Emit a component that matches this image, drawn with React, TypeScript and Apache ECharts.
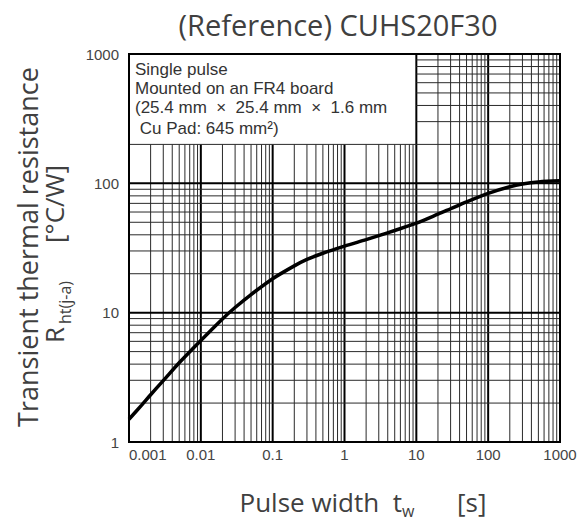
import React, { useEffect, useRef } from "react";
import * as echarts from "echarts";

// ---- data ----
const pulseWidth = [0.001, 0.0015, 0.002, 0.003, 0.005, 0.01, 0.02, 0.03, 0.05, 0.1, 0.2, 0.3, 0.5, 1, 2, 3, 5, 10, 20, 30, 50, 100, 200, 300, 500, 1000];
const rth = [1.5, 1.93, 2.32, 2.98, 4.1, 6.1, 8.95, 10.96, 13.8, 18.3, 23.0, 25.8, 28.8, 32.7, 36.7, 39.4, 43.2, 49.2, 57.7, 63.6, 71.9, 83.7, 94.2, 98.9, 102.5, 104.5];
const xTickLabels = ["0.001", "0.01", "0.1", "1", "10", "100", "1000"];
const yTickLabels = ["1", "10", "100", "1000"];
const noteLines = ["Single pulse", "Mounted on an FR4 board", "(25.4 mm  \u00d7  25.4 mm  \u00d7  1.6 mm", " Cu Pad: 645 mm\u00b2)"];
const chartTitle = "(Reference) CUHS20F30";
const yTitle1 = "Transient thermal resistance";
const yTitleR = "R";
const yTitleSub = "ht(j-a)";
const yTitleUnit = "[\u00b0C/W]";
const xTitleMain = "Pulse width  t";
const xTitleSub = "w";
const xTitleUnit = "[s]";

const X_MIN = 0.001, X_MAX = 1000, Y_MIN = 1, Y_MAX = 1000;
const BOX_X = 10, BOX_Y = 200;

export default function App() {
  const ref = useRef<HTMLDivElement>(null);
  useEffect(() => {
    document.body.style.margin = "0";
    const chart = echarts.init(ref.current!, null, { renderer: "svg" });
    const titleFont = '"Open Sans", "Noto Sans", sans-serif';
    const titleColor = "#404040";
    const option: any = {
      animation: false,
      backgroundColor: "#ffffff",
      grid: { left: 129, top: 54, width: 431, height: 388, show: false },
      xAxis: {
        type: "log",
        logBase: 10,
        min: X_MIN,
        max: X_MAX,
        splitNumber: 6,
        axisLine: { show: false },
        axisTick: { show: false },
        splitLine: { show: false },
        axisLabel: {
          fontFamily: '"Liberation Sans", Arial, sans-serif',
          fontSize: 15,
          color: "#444",
          margin: 5,
          alignMinLabel: "left",
          formatter: (v: number) => xTickLabels[Math.round(Math.log10(v)) + 3],
        },
      },
      yAxis: {
        type: "log",
        logBase: 10,
        min: Y_MIN,
        max: Y_MAX,
        splitNumber: 3,
        axisLine: { show: false },
        axisTick: { show: false },
        splitLine: { show: false },
        axisLabel: {
          fontFamily: '"Liberation Sans", Arial, sans-serif',
          fontSize: 15,
          color: "#444",
          margin: 10,
          formatter: (v: number) => yTickLabels[Math.round(Math.log10(v))],
        },
      },
      series: [
        {
          type: "custom",
          z: 1,
          silent: true,
          data: [[1, 1]],
          encode: { x: 0, y: 1 },
          renderItem: (_params: any, api: any) => {
            const children: any[] = [];
            const [xl, yb] = api.coord([X_MIN, Y_MIN]);
            const [xr, yt] = api.coord([X_MAX, Y_MAX]);
            const boxRight = api.coord([BOX_X, Y_MIN])[0];
            const boxBottom = api.coord([X_MIN, BOX_Y])[1];
            for (let k = -3; k <= 2; k++) {
              for (let m = 1; m <= 9; m++) {
                const v = m * Math.pow(10, k);
                if (k === -3 && m === 1) continue;
                const x = api.coord([v, Y_MIN])[0];
                const top = v < BOX_X - 1e-9 ? boxBottom : yt;
                children.push({
                  type: "line",
                  shape: { x1: x, y1: yb, x2: x, y2: top },
                  style: { stroke: m === 1 ? "#000" : "#2a2a2a", lineWidth: m === 1 ? 2 : 1 },
                });
              }
            }
            for (let k = 0; k <= 2; k++) {
              for (let m = 1; m <= 9; m++) {
                if (k === 0 && m === 1) continue;
                const v = m * Math.pow(10, k);
                const y = api.coord([X_MIN, v])[1];
                const left = v > BOX_Y + 1e-9 ? boxRight : xl;
                children.push({
                  type: "line",
                  shape: { x1: left, y1: y, x2: xr, y2: y },
                  style: { stroke: m === 1 ? "#000" : "#2a2a2a", lineWidth: m === 1 ? 2 : 1 },
                });
              }
            }
            children.push({
              type: "rect",
              shape: { x: xl, y: yt, width: xr - xl, height: yb - yt },
              style: { fill: "none", stroke: "#000", lineWidth: 2 },
            });
            return { type: "group", children };
          },
        },
        {
          type: "line",
          z: 5,
          data: pulseWidth.map((x, i) => [x, rth[i]]),
          smooth: 0.3,
          showSymbol: false,
          lineStyle: { color: "#000", width: 3.5 },
        },
      ],
      graphic: [
        {
          type: "text", z: 100, x: 338, y: 24,
          style: { text: chartTitle, font: `29px ${titleFont}`, fill: titleColor, align: "center", verticalAlign: "middle" },
        },
        {
          type: "text", z: 100, x: 27, y: 247, rotation: Math.PI / 2,
          style: { text: yTitle1, font: `27px ${titleFont}`, fill: titleColor, align: "center", verticalAlign: "middle" },
        },
        {
          type: "group", z: 100, x: 54, y: 343, rotation: Math.PI / 2,
          children: [
            { type: "text", x: 0, y: 0, style: { text: yTitleR, font: `26px ${titleFont}`, fill: titleColor, align: "left", verticalAlign: "middle" } },
            { type: "text", x: 19, y: 11, style: { text: yTitleSub, font: `16px ${titleFont}`, fill: titleColor, align: "left", verticalAlign: "middle" } },
            { type: "text", x: 100, y: 0, style: { text: yTitleUnit, font: `26px ${titleFont}`, fill: titleColor, align: "left", verticalAlign: "middle" } },
          ],
        },
        {
          type: "text", z: 100, x: 402, y: 502,
          style: { text: xTitleMain, font: `26px ${titleFont}`, fill: titleColor, align: "right", verticalAlign: "middle" },
        },
        {
          type: "text", z: 100, x: 402, y: 511,
          style: { text: xTitleSub, font: `16px ${titleFont}`, fill: titleColor, align: "left", verticalAlign: "middle" },
        },
        {
          type: "text", z: 100, x: 457, y: 502,
          style: { text: xTitleUnit, font: `26px ${titleFont}`, fill: titleColor, align: "left", verticalAlign: "middle" },
        },
        ...noteLines.map((t, i) => ({
          type: "text", z: 100, x: 135, y: [69, 88, 107, 128][i],
          style: { text: t, font: '17px "Liberation Sans", Arial, sans-serif', fill: "#333", align: "left", verticalAlign: "middle" },
        })),
      ],
    };
    chart.setOption(option);
    return () => chart.dispose();
  }, []);
  return <div ref={ref} style={{ width: 580, height: 522 }} />;
}
